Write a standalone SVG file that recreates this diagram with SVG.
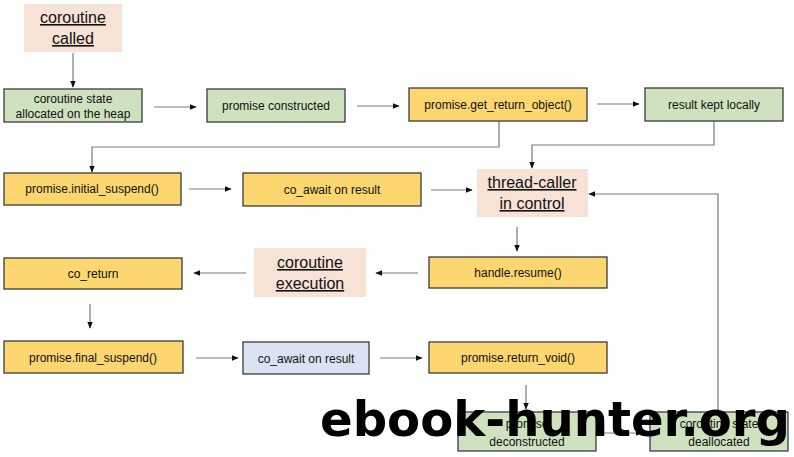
<svg xmlns="http://www.w3.org/2000/svg" width="794" height="457" viewBox="0 0 794 457">
<style>
  .box { stroke: #3b3b3b; stroke-width: 1.3; }
  .g { fill: #cfe2bf; }
  .y { fill: #fcd66f; }
  .b { fill: #dbe3f2; }
  .p { fill: #f7e2d6; }
  .t { font-family: "Liberation Sans", Arial, sans-serif; font-size: 12px; fill: #111; text-anchor: middle; }
  .h { font-family: "Liberation Sans", Arial, sans-serif; font-size: 16px; fill: #111; text-anchor: middle; text-decoration: underline; }
  .c { fill: none; stroke: #7a7a7a; stroke-width: 1.2; marker-end: url(#ah); }
  .wm { font-family: "DejaVu Sans", sans-serif; font-weight: bold; font-size: 48px; fill: #000; }
</style>
<defs>
  <marker id="ah" viewBox="0 0 10 10" refX="9" refY="5" markerWidth="7" markerHeight="7" markerUnits="userSpaceOnUse" orient="auto">
    <path d="M0,1 L10,5 L0,9 z" fill="#111"/>
  </marker>
</defs>
<rect width="794" height="457" fill="#fff"/>

<g id="connectors">
  <path class="c" d="M73,53 V87"/>
  <path class="c" d="M154,107 H196"/>
  <path class="c" d="M357,106 H399"/>
  <path class="c" d="M597,104 H639"/>
  <path class="c" d="M499,121 V147 H92 V172"/>
  <path class="c" d="M714,121 V145 H532 V168"/>
  <path class="c" d="M189,189 H231"/>
  <path class="c" d="M431,190 H472"/>
  <path class="c" d="M718,411 V194 H589"/>
  <path class="c" d="M517,227 V251"/>
  <path class="c" d="M418,273 H376"/>
  <path class="c" d="M246,273 H194"/>
  <path class="c" d="M90,304 V328"/>
  <path class="c" d="M196,358 H238"/>
  <path class="c" d="M380,358 H422"/>
  <path class="c" d="M526,385 V409"/>
  <path class="c" d="M596,433 H642"/>
</g>

<g id="n-called">
  <rect class="p" x="24" y="4" width="98" height="48"/>
  <text class="h" x="73" y="23">coroutine</text>
  <text class="h" x="73" y="44">called</text>
</g>
<g id="n-state">
  <rect class="box g" x="4" y="89" width="138" height="33"/>
  <text class="t" x="73" y="103">coroutine state</text>
  <text class="t" x="73" y="118">allocated on the heap</text>
</g>
<g id="n-promise">
  <rect class="box g" x="207" y="89" width="138" height="33"/>
  <text class="t" x="276" y="110">promise constructed</text>
</g>
<g id="n-gro">
  <rect class="box y" x="409" y="88" width="178" height="33"/>
  <text class="t" x="498" y="109">promise.get_return_object()</text>
</g>
<g id="n-result">
  <rect class="box g" x="645" y="88" width="138" height="33"/>
  <text class="t" x="714" y="109">result kept locally</text>
</g>
<g id="n-initial">
  <rect class="box y" x="4" y="173" width="177" height="32"/>
  <text class="t" x="92" y="193">promise.initial_suspend()</text>
</g>
<g id="n-await1">
  <rect class="box y" x="243" y="173" width="178" height="33"/>
  <text class="t" x="332" y="194">co_await on result</text>
</g>
<g id="n-thread">
  <rect class="p" x="477" y="169" width="111" height="48"/>
  <text class="h" x="532" y="188">thread-caller</text>
  <text class="h" x="532" y="209">in control</text>
</g>
<g id="n-resume">
  <rect class="box y" x="429" y="257" width="178" height="31"/>
  <text class="t" x="518" y="277">handle.resume()</text>
</g>
<g id="n-exec">
  <rect class="p" x="254" y="248" width="112" height="49"/>
  <text class="h" x="310" y="268">coroutine</text>
  <text class="h" x="310" y="289">execution</text>
</g>
<g id="n-return">
  <rect class="box y" x="4" y="258" width="178" height="31"/>
  <text class="t" x="93" y="278">co_return</text>
</g>
<g id="n-final">
  <rect class="box y" x="4" y="341" width="179" height="32"/>
  <text class="t" x="93" y="362">promise.final_suspend()</text>
</g>
<g id="n-await2">
  <rect class="box b" x="243" y="342" width="126" height="32"/>
  <text class="t" x="306" y="363">co_await on result</text>
</g>
<g id="n-void">
  <rect class="box y" x="429" y="342" width="178" height="31"/>
  <text class="t" x="518" y="362">promise.return_void()</text>
</g>
<g id="n-decon">
  <rect class="box g" x="458" y="412" width="138" height="39"/>
  <text class="t" x="527" y="428">promise</text>
  <text class="t" x="527" y="446">deconstructed</text>
</g>
<g id="n-dealloc">
  <rect class="box g" x="650" y="412" width="138" height="39"/>
  <text class="t" x="719" y="428">coroutine state</text>
  <text class="t" x="719" y="446">deallocated</text>
</g>

<text class="wm" x="320" y="436" textLength="470" lengthAdjust="spacingAndGlyphs">ebook-hunter.org</text>
</svg>
